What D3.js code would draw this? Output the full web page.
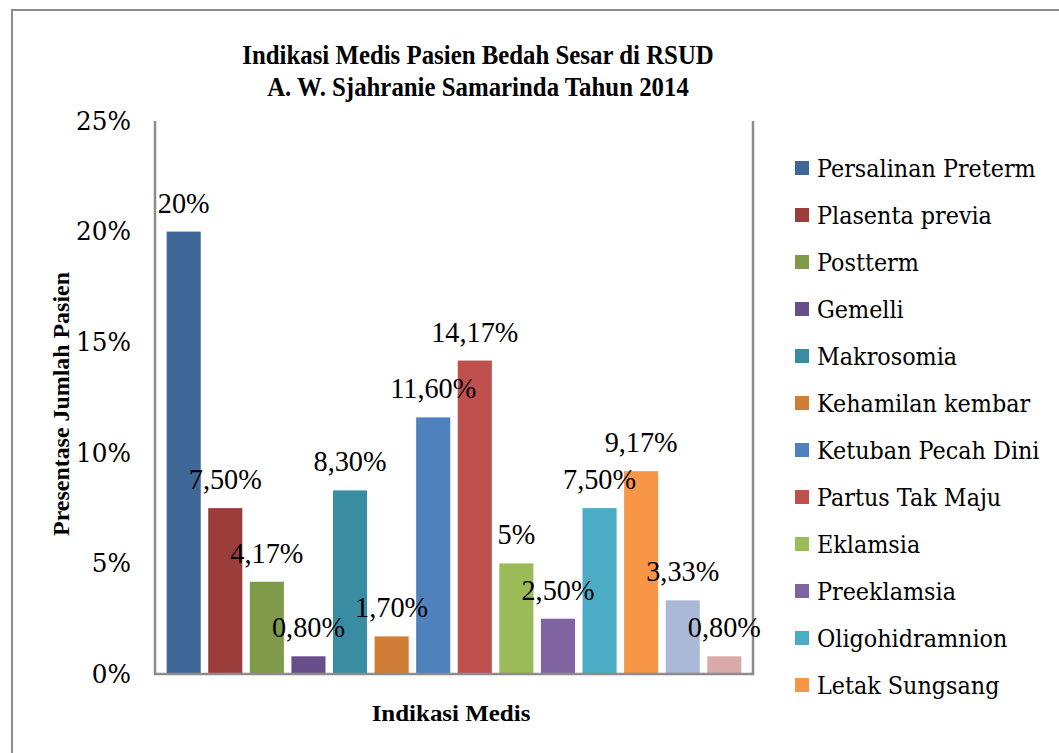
<!DOCTYPE html>
<html lang="id">
<head>
<meta charset="UTF-8">
<title>Indikasi Medis Pasien Bedah Sesar</title>
<script src="https://d3js.org/d3.v7.min.js"></script>
<style>
    body { margin: 0; background: #fff; }
    svg { display: block; }
    .tick-label, .legend text { font-family: 'DejaVu Serif', serif; fill: #000; }
    .value-label { font-family: 'Liberation Serif', serif; fill: #000; }
    .title, .axis-title { font-family: 'Liberation Serif', serif; font-weight: bold; fill: #000; }
</style>
</head>
<body>
<svg id="chart" width="1059" height="753"></svg>
<script>
    // data
    const categories = ["Persalinan Preterm", "Plasenta previa", "Postterm", "Gemelli",
        "Makrosomia", "Kehamilan kembar", "Ketuban Pecah Dini", "Partus Tak Maju",
        "Eklamsia", "Preeklamsia", "Oligohidramnion", "Letak Sungsang",
        "Seri 13", "Seri 14"];
    const values = [20, 7.5, 4.17, 0.8, 8.3, 1.7, 11.6, 14.17, 5, 2.5, 7.5, 9.17, 3.33, 0.8];
    const valueLabels = ["20%", "7,50%", "4,17%", "0,80%", "8,30%", "1,70%", "11,60%",
        "14,17%", "5%", "2,50%", "7,50%", "9,17%", "3,33%", "0,80%"];
    const colors = ["#3F6898", "#9B3E3B", "#7F9A48", "#684F8A", "#3A8CA3", "#D07D36",
        "#4F81BD", "#C0504D", "#9BBB59", "#8064A2", "#4BACC6", "#F79646",
        "#AAB9D7", "#D9AAA9"];
    const yTicks = [0, 5, 10, 15, 20, 25];
    const legendCount = 12; // the legend only shows the first 12 series

    const svg = d3.select("#chart");

    const plot = { left: 155, right: 753, top: 121, bottom: 674 };

    const x = d3.scaleBand()
        .domain(categories)
        .range([plot.left, plot.right])
        .paddingInner(0.18)
        .paddingOuter(0.28);

    const y = d3.scaleLinear()
        .domain([0, 25])
        .range([plot.bottom, plot.top]);

    // outer chart border
    svg.append("path")
        .attr("d", "M12,760 L12,10 L1070,10")
        .attr("fill", "none")
        .attr("stroke", "#8c8c8c")
        .attr("stroke-width", 2);

    // title
    const title = svg.append("text")
        .attr("class", "title")
        .attr("text-anchor", "middle")
        .attr("transform", "translate(478,0) scale(0.92,1)")
        .style("font-size", "27px");
    title.append("tspan").attr("x", 0).attr("y", 64).text("Indikasi Medis Pasien Bedah Sesar di RSUD");
    title.append("tspan").attr("x", 0).attr("y", 96).text("A. W. Sjahranie Samarinda Tahun 2014");

    // bars
    svg.append("g").selectAll("rect")
        .data(values)
        .join("rect")
        .attr("x", (d, i) => x(categories[i]))
        .attr("y", d => y(d))
        .attr("width", x.bandwidth())
        .attr("height", d => y(0) - y(d))
        .attr("fill", (d, i) => colors[i]);

    // plot area frame (left, bottom, right)
    svg.append("path")
        .attr("d", `M${plot.left},${plot.top} L${plot.left},${plot.bottom} L${plot.right},${plot.bottom} L${plot.right},${plot.top}`)
        .attr("fill", "none")
        .attr("stroke", "#8c8c8c")
        .attr("stroke-width", 2.5);

    // y tick labels
    svg.append("g").selectAll("text")
        .data(yTicks)
        .join("text")
        .attr("class", "tick-label")
        .attr("text-anchor", "end")
        .attr("dy", "0.35em")
        .attr("transform", d => `translate(131,${y(d)}) scale(1.03,1.05)`)
        .style("font-size", "24px")
        .text(d => d + "%");

    // value labels
    svg.append("g").selectAll("text")
        .data(values)
        .join("text")
        .attr("class", "value-label")
        .attr("text-anchor", "middle")
        .attr("transform", (d, i) => `translate(${x(categories[i]) + x.bandwidth() / 2},${y(d) - 19}) scale(1.01,1.05)`)
        .style("font-size", "28px")
        .text((d, i) => valueLabels[i]);

    // axis titles
    svg.append("text")
        .attr("class", "axis-title")
        .attr("text-anchor", "middle")
        .attr("transform", "translate(69,404) rotate(-90) scale(1.04,1)")
        .style("font-size", "23px")
        .text("Presentase Jumlah Pasien");

    svg.append("text")
        .attr("class", "axis-title")
        .attr("text-anchor", "middle")
        .attr("transform", "translate(451,721) scale(1.04,1)")
        .style("font-size", "24px")
        .text("Indikasi Medis");

    // legend
    const legend = svg.append("g")
        .attr("class", "legend")
        .selectAll("g")
        .data(categories.slice(0, legendCount))
        .join("g")
        .attr("transform", (d, i) => `translate(795,${168 + i * 47})`);

    legend.append("rect")
        .attr("x", 0)
        .attr("y", -7)
        .attr("width", 14)
        .attr("height", 14)
        .attr("fill", (d, i) => colors[i]);

    legend.append("text")
        .attr("dy", "0.35em")
        .attr("transform", "translate(22,0) scale(0.97,1.08)")
        .style("font-size", "23px")
        .text(d => d);
</script>
</body>
</html>
